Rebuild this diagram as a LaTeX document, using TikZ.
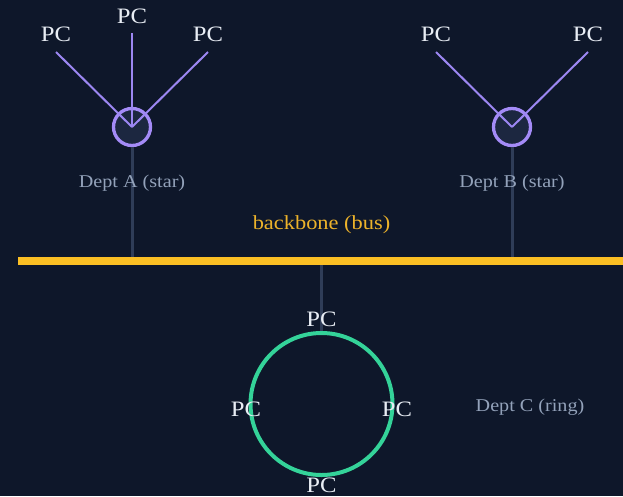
\documentclass[tikz,border=0pt]{standalone}
\usepackage{fontspec}
\setmainfont[FakeStretch=1.12]{Liberation Serif}
\definecolor{bg}{HTML}{0E172A}
\definecolor{hubfill}{HTML}{1C2740}
\definecolor{violet}{HTML}{A48BF7}
\definecolor{spoke}{HTML}{9C87F2}
\definecolor{drop}{HTML}{2F3D58}
\definecolor{amber}{HTML}{FBBF24}
\definecolor{amberText}{HTML}{EDB32A}
\definecolor{ringGreen}{HTML}{34D399}
\definecolor{pcText}{HTML}{E8EDF4}
\definecolor{deptText}{HTML}{93A2BA}
\tikzset{
  hub/.style={circle, draw=violet, line width=3.3pt, fill=hubfill, minimum size=37pt, inner sep=0pt},
  spokeline/.style={draw=spoke, line width=2pt},
  dropline/.style={draw=drop, line width=3pt},
  busline/.style={draw=amber, line width=8pt},
  ringnode/.style={circle, draw=ringGreen, line width=4pt, minimum size=142pt, inner sep=0pt},
  pc/.style={text=pcText, font=\fontsize{22}{24}\selectfont, inner sep=0pt},
  dept/.style={text=deptText, font=\fontsize{18}{20}\selectfont, inner sep=0pt},
  buslabel/.style={text=amberText, font=\fontsize{20}{22}\selectfont, inner sep=0pt}
}
\begin{document}
\begin{tikzpicture}[x=1pt,y=-1pt]
\fill[bg] (0,0) rectangle (623,496);
\useasboundingbox (0,0) rectangle (623,496);

% backbone end points and taps
\coordinate (busL) at (18,261);
\coordinate (busR) at (623,261);
\coordinate (tapC) at (321.5,261);

% department hubs
\node[hub] (hubA) at (132,127) {};
\node[hub] (hubB) at (512,127) {};

% ring of department C
\node[ringnode] (ring) at (321.5,404) {};

% drops from hubs and ring to the backbone
\draw[dropline] (hubA.south) -- (hubA.south |- busL);
\draw[dropline] (hubB.south) -- (hubB.south |- busL);
\draw[dropline] (tapC) -- (ring.north);

% backbone bus
\draw[busline] (busL) -- (busR);
\node[buslabel] (busText) at (321.5,225) {backbone (bus)};

% star A spokes
\coordinate (a1) at (56,52);
\coordinate (a2) at (132,33);
\coordinate (a3) at (208,52);
\draw[spokeline] (hubA.center) -- (a1);
\draw[spokeline] (hubA.center) -- (a2);
\draw[spokeline] (hubA.center) -- (a3);
\node[pc] (pcA1) at (56,34) {PC};
\node[pc] (pcA2) at (132,16) {PC};
\node[pc] (pcA3) at (208,34) {PC};
\node[dept] (deptA) at (132,183) {Dept A (star)};

% star B spokes
\coordinate (b1) at (436,52);
\coordinate (b2) at (588,52);
\draw[spokeline] (hubB.center) -- (b1);
\draw[spokeline] (hubB.center) -- (b2);
\node[pc] (pcB1) at (436,34) {PC};
\node[pc] (pcB2) at (588,34) {PC};
\node[dept] (deptB) at (512,183) {Dept B (star)};

% ring stations
\node[pc] (pcC1) at (321.5,319) {PC};
\node[pc] (pcC2) at (246,409) {PC};
\node[pc] (pcC3) at (397,409) {PC};
\node[pc] (pcC4) at (321.5,485) {PC};
\node[dept] (deptC) at (530,407) {Dept C (ring)};
\end{tikzpicture}
\end{document}
